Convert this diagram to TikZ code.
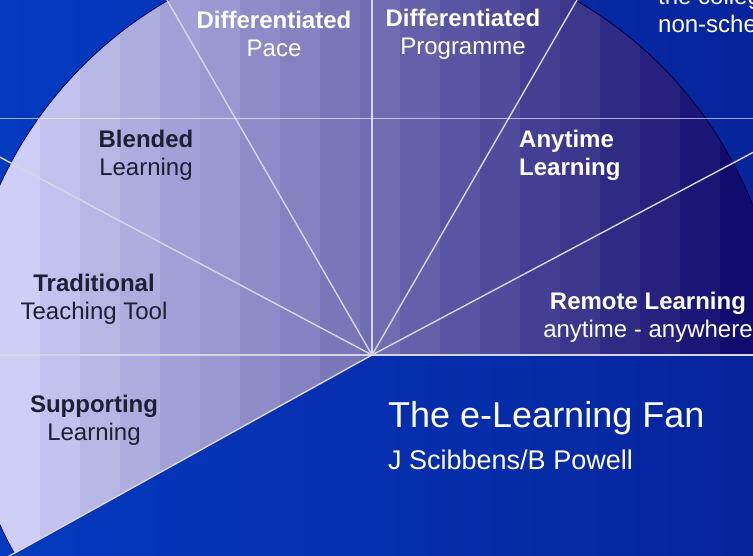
\documentclass[tikz,border=0pt]{standalone}
\usepackage{fontspec}
\setmainfont{Liberation Sans}
\usetikzlibrary{positioning}

\definecolor{fanlight}{RGB}{206,206,246}
\definecolor{fandark}{RGB}{16,12,110}
\definecolor{bgleft}{RGB}{4,58,192}
\definecolor{bgright}{RGB}{6,36,156}
\definecolor{inkdark}{RGB}{30,30,52}
\definecolor{spoke}{RGB}{214,214,232}

\tikzset{
	fanlabel/.style={align=center,inner sep=0pt,font=\fontsize{24}{28}\selectfont},
	darklabel/.style={fanlabel,text=inkdark},
	lightlabel/.style={fanlabel,text=white},
	spokeline/.style={draw=spoke,line width=1.4pt},
}

\begin{document}
\begin{tikzpicture}[x=1pt,y=1pt]
	\useasboundingbox (0,0) rectangle (753,556);
	\clip (0,0) rectangle (753,556);
	\shade [left color=bgleft,right color=bgright] (0,0) rectangle (753,556);
	\coordinate (hub) at (372,201);
	% fan, banded light to dark
	\begin{scope}
		\clip (hub) -- ++(0:409) arc[start angle=0,end angle=209,radius=409] -- cycle;
		\foreach \i in {0,...,18} {
			\pgfmathtruncatemacro{\p}{100-\i*100/18}
			\fill [fanlight!\p!fandark] (\i*40,0) rectangle (\i*40+41,556);
		}
	\end{scope}
	\draw [draw=black!70!blue,line width=0.8pt] ([shift={(0:409)}]hub) arc[start angle=0,end angle=209,radius=409];
	\foreach \a [count=\i] in {0,28,60,90,120,152,180,209}
		\coordinate (rim\i) at ([shift={(\a:440)}]hub);
	\foreach \i in {1,...,8}
		\draw [spokeline] (hub) -- (rim\i);
	\draw [white,opacity=0.6,line width=0.6pt] (0,438) -- (753,438);

	\node [lightlabel] (pace) at ([xshift=-98pt,yshift=321pt]hub) {\textbf{Differentiated}\\Pace};
	\node [lightlabel] (programme) at ([xshift=91pt,yshift=321pt]hub) {\textbf{Differentiated}\\Programme};
	\node [darklabel] (blended) at ([xshift=-226pt,yshift=200pt]hub) {\textbf{Blended}\\Learning};
	\node [lightlabel,align=left,anchor=west] (anytime) at ([xshift=147pt,yshift=200pt]hub) {\textbf{Anytime}\\\textbf{Learning}};
	\node [darklabel] (traditional) at ([xshift=-278pt,yshift=56pt]hub) {\textbf{Traditional}\\Teaching Tool};
	\node [darklabel] (supporting) at ([xshift=-278pt,yshift=-65pt]hub) {\textbf{Supporting}\\Learning};
	\node [lightlabel] (remote) at ([xshift=276pt,yshift=38pt]hub) {\textbf{Remote Learning}\\anytime - anywhere};
	\node [lightlabel,align=left,anchor=west] (college) at ([xshift=286pt,yshift=345pt]hub) {the college\\non-scheduled};

	\node [text=white,anchor=west,inner sep=0pt,font=\fontsize{36}{40}\selectfont] (title) at ([xshift=16pt,yshift=-63pt]hub) {The e-Learning Fan};
	\node [text=white,anchor=west,inner sep=0pt,font=\fontsize{27}{30}\selectfont] (author) at ([yshift=-42pt]title.west) {J Scibbens/B Powell};
\end{tikzpicture}
\end{document}
